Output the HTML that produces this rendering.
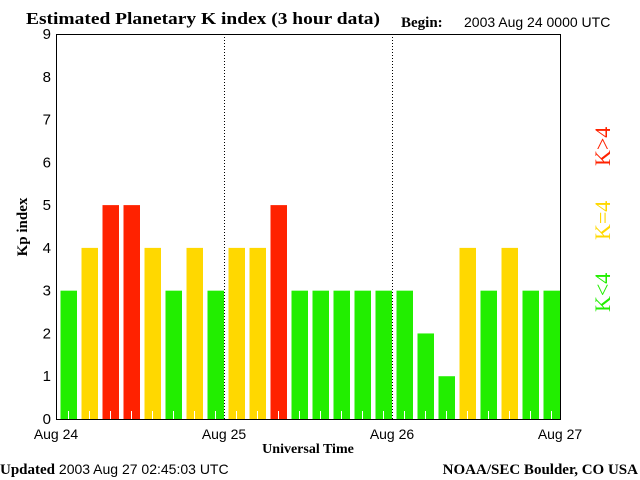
<!DOCTYPE html>
<html><head><meta charset="utf-8"><style>
body{margin:0;background:#fff}
svg{display:block}
text{font-family:"Liberation Sans",sans-serif}
.s{font-family:"Liberation Serif",serif}
</style></head><body>
<svg id="c" width="640" height="480" style="font-size:14px">
<text class="s" x="26" y="24" textLength="354" lengthAdjust="spacingAndGlyphs" style="font-size:17px;font-weight:bold">Estimated Planetary K index (3 hour data)</text>
<text class="s" x="401" y="27" style="font-size:15px;font-weight:bold">Begin:</text>
<text x="464" y="27" style="font-size:14px">2003 Aug 24 0000 UTC</text>
<text class="s" transform="translate(27,227) rotate(-90)" text-anchor="middle" style="font-size:15px;font-weight:bold">Kp index</text>
<text class="s" x="308" y="453" text-anchor="middle" style="font-size:14px;font-weight:bold">Universal Time</text>
<text x="0" y="474" style="font-size:14px"><tspan class="s" style="font-weight:bold;font-size:15px">Updated</tspan> 2003 Aug 27 02:45:03 UTC</text>
<text class="s" x="638" y="474" text-anchor="end" style="font-size:15px;font-weight:bold">NOAA/SEC Boulder, CO USA</text>
<g class="s">
<text class="s" transform="translate(610,312) rotate(-90)" fill="#22ee00" style="font-size:22px">K&lt;4</text>
<text class="s" transform="translate(610,240) rotate(-90)" fill="#ffd800" style="font-size:22px">K=4</text>
<text class="s" transform="translate(610,166) rotate(-90)" fill="#ff2200" style="font-size:22px">K&gt;4</text>
</g>
<g id="plot"></g>
</svg>
<script>
const values=[3,4,5,5,4,3,4,3, 4,4,5,3,3,3,3,3, 3,2,1,4,3,4,3,3];
const yTicks=[0,1,2,3,4,5,6,7,8,9];
const xLabels=["Aug 24","Aug 25","Aug 26","Aug 27"];
const L=56,R=560,T=34,B=419;
const NS="http://www.w3.org/2000/svg";
const g=document.getElementById('plot');
const y=v=>B-v*(B-T)/9;
const slot=(R-L)/values.length;
const x=i=>L+i*slot;
function mk(t,a){const e=document.createElementNS(NS,t);for(const k in a)e.setAttribute(k,a[k]);g.appendChild(e);return e;}
values.forEach((v,i)=>{
 const col=v>4?'#ff2200':(v==4?'#ffd800':'#22ee00');
 const r=mk('rect',{x:x(i)+4.5,y:y(v),width:16.5,height:B-y(v),fill:col});
 
 
 const t=mk('line',{x1:x(i)+12.5,x2:x(i)+12.5,y1:B-8,y2:B,stroke:'#fff','stroke-width':1});
 
 
});
[1,2].forEach(d=>{
 const xx=L+d*(R-L)/3+0.5;
 const l=mk('line',{x1:xx,x2:xx,y1:T,y2:B,stroke:'#000','stroke-dasharray':'1,2'});
 
 
});
const f=mk('rect',{x:L+0.5,y:T+0.5,width:R-L,height:B-T,fill:'none',stroke:'#000','stroke-width':1});


yTicks.forEach(v=>{
 const t=mk('text',{x:L-5,y:y(v)+5,'text-anchor':'end',style:'font-size:15px'});
 t.textContent=v;
 
 
});
xLabels.forEach((s,i)=>{
 const t=mk('text',{x:L+i*(R-L)/3,y:439,'text-anchor':'middle',style:'font-size:14px'});
 t.textContent=s;
 
 
});
</script>
</body></html>
